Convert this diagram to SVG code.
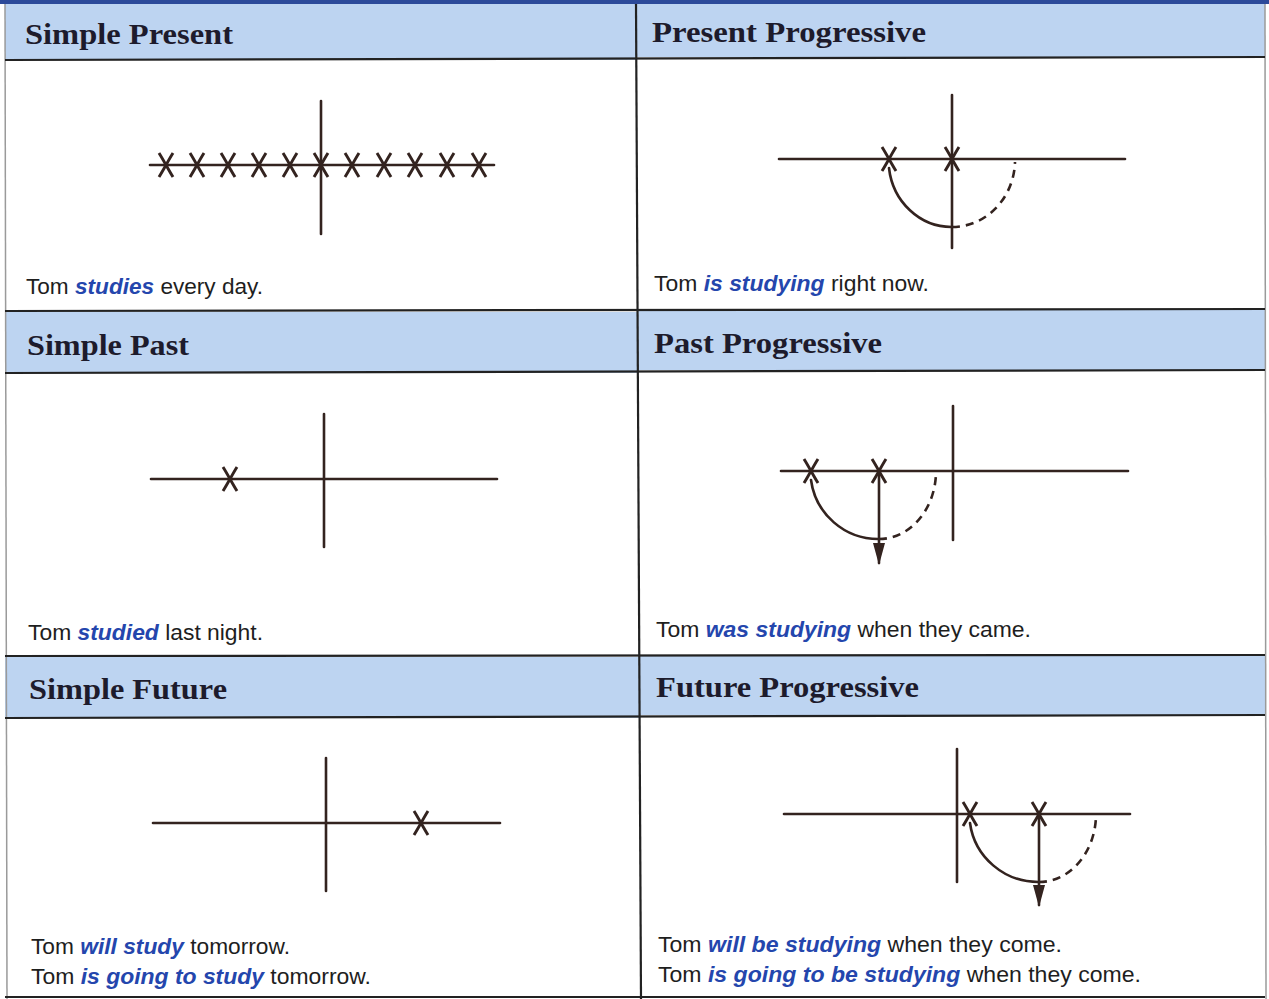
<svg xmlns="http://www.w3.org/2000/svg" width="1269" height="999" viewBox="0 0 1269 999">
<style>
.hbg{fill:#bdd4f1}
.grid{stroke:#222;stroke-width:2.2;fill:none}
.edge{stroke:#9a9a9a;stroke-width:1.5;fill:none}
.ttl{font-family:"Liberation Serif",serif;font-weight:bold;font-size:30px;fill:#1d1b2c}
.body{font-family:"Liberation Sans",Arial,sans-serif;font-size:22px;fill:#1e1e1e}
.verb{fill:#2446ad;font-weight:bold;font-style:italic}
.tl{stroke:#33231f;stroke-width:2.6;fill:none;stroke-linecap:round}
.dash{stroke:#33231f;stroke-width:2.6;fill:none;stroke-dasharray:8 6}
</style>
<defs>
<path id="x" d="M-7,-12 C-2,-4 2,4 7,12 M7,-12 C2,-4 -2,4 -7,12" stroke="#33231f" stroke-width="2.9" fill="none"/>
<marker id="arr" markerWidth="22" markerHeight="12" refX="20" refY="6" orient="auto" markerUnits="userSpaceOnUse" viewBox="0 0 22 12">
<path d="M0,0 L22,6 L0,12 Z" fill="#33231f"/>
</marker>
</defs>
<rect width="1269" height="999" fill="#ffffff"/>
<rect x="0" y="0" width="1269" height="4" fill="#2c4a9a"/>

<g id="headers-bg">
<rect class="hbg" x="5" y="4" width="632" height="56"/>
<rect class="hbg" x="637" y="4" width="628" height="53"/>
<rect class="hbg" x="5" y="312" width="633" height="61"/>
<rect class="hbg" x="638" y="310" width="627" height="60"/>
<rect class="hbg" x="5" y="657" width="635" height="61"/>
<rect class="hbg" x="639" y="655" width="626" height="60"/>
</g>

<g id="grid">
<line class="edge" x1="5" y1="4" x2="7" y2="999"/>
<line class="edge" x1="1265" y1="4" x2="1266" y2="999"/>
<line class="grid" x1="636" y1="4" x2="641" y2="999"/>
<line class="grid" x1="5" y1="60" x2="1265" y2="57"/>
<line class="grid" x1="5" y1="311" x2="1265" y2="309"/>
<line class="grid" x1="5" y1="373" x2="1265" y2="370"/>
<line class="grid" x1="5" y1="656" x2="1265" y2="655"/>
<line class="grid" x1="5" y1="718" x2="1265" y2="715"/>
<line class="grid" x1="5" y1="997" x2="1265" y2="997"/>
</g>

<g id="simple-present">
<text class="ttl" x="25" y="44" textLength="208" lengthAdjust="spacingAndGlyphs">Simple Present</text>
<line class="tl" x1="150" y1="165" x2="494" y2="165"/>
<line class="tl" x1="321" y1="101" x2="321" y2="234"/>
<use href="#x" x="166" y="165"/><use href="#x" x="197" y="165"/><use href="#x" x="228" y="165"/>
<use href="#x" x="259" y="165"/><use href="#x" x="290" y="165"/><use href="#x" x="321" y="165"/>
<use href="#x" x="352" y="165"/><use href="#x" x="384" y="165"/><use href="#x" x="415" y="165"/>
<use href="#x" x="447" y="165"/><use href="#x" x="479" y="165"/>
<text class="body" x="26" y="294" textLength="237" lengthAdjust="spacingAndGlyphs">Tom <tspan class="verb">studies</tspan> every day.</text>
</g>

<g id="present-progressive">
<text class="ttl" x="652" y="42" textLength="274" lengthAdjust="spacingAndGlyphs">Present Progressive</text>
<line class="tl" x1="779" y1="159" x2="1125" y2="159"/>
<line class="tl" x1="952" y1="95" x2="952" y2="248"/>
<use href="#x" x="889" y="159"/><use href="#x" x="952" y="159"/>
<path class="tl" d="M889,168 A63,67 0 0 0 952,227"/>
<path class="dash" d="M952,227 A63,67 0 0 0 1015,162"/>
<text class="body" x="654" y="291" textLength="275" lengthAdjust="spacingAndGlyphs">Tom <tspan class="verb">is studying</tspan> right now.</text>
</g>

<g id="simple-past">
<text class="ttl" x="27" y="355" textLength="162" lengthAdjust="spacingAndGlyphs">Simple Past</text>
<line class="tl" x1="151" y1="479" x2="497" y2="479"/>
<line class="tl" x1="324" y1="414" x2="324" y2="547"/>
<use href="#x" x="230" y="479"/>
<text class="body" x="28" y="640" textLength="235" lengthAdjust="spacingAndGlyphs">Tom <tspan class="verb">studied</tspan> last night.</text>
</g>

<g id="past-progressive">
<text class="ttl" x="654" y="353" textLength="228" lengthAdjust="spacingAndGlyphs">Past Progressive</text>
<line class="tl" x1="781" y1="471" x2="1128" y2="471"/>
<line class="tl" x1="953" y1="406" x2="953" y2="540"/>
<use href="#x" x="811" y="471"/><use href="#x" x="879" y="471"/>
<path class="tl" d="M811,480 A68,68 0 0 0 879,539"/>
<path class="dash" d="M879,539 A57,68 0 0 0 936,473"/>
<line class="tl" x1="879" y1="471" x2="879" y2="563" marker-end="url(#arr)"/>
<text class="body" x="656" y="637" textLength="375" lengthAdjust="spacingAndGlyphs">Tom <tspan class="verb">was studying</tspan> when they came.</text>
</g>

<g id="simple-future">
<text class="ttl" x="29" y="699" textLength="198" lengthAdjust="spacingAndGlyphs">Simple Future</text>
<line class="tl" x1="153" y1="823" x2="500" y2="823"/>
<line class="tl" x1="326" y1="758" x2="326" y2="891"/>
<use href="#x" x="421" y="823"/>
<text class="body" x="31" y="954" textLength="259" lengthAdjust="spacingAndGlyphs">Tom <tspan class="verb">will study</tspan> tomorrow.</text>
<text class="body" x="31" y="984" textLength="340" lengthAdjust="spacingAndGlyphs">Tom <tspan class="verb">is going to study</tspan> tomorrow.</text>
</g>

<g id="future-progressive">
<text class="ttl" x="656" y="697" textLength="263" lengthAdjust="spacingAndGlyphs">Future Progressive</text>
<line class="tl" x1="784" y1="814" x2="1130" y2="814"/>
<line class="tl" x1="957" y1="749" x2="957" y2="882"/>
<use href="#x" x="970" y="814"/><use href="#x" x="1039" y="814"/>
<path class="tl" d="M970,823 A69,68 0 0 0 1039,882"/>
<path class="dash" d="M1039,882 A57,68 0 0 0 1096,816"/>
<line class="tl" x1="1039" y1="814" x2="1039" y2="905" marker-end="url(#arr)"/>
<text class="body" x="658" y="952" textLength="404" lengthAdjust="spacingAndGlyphs">Tom <tspan class="verb">will be studying</tspan> when they come.</text>
<text class="body" x="658" y="982" textLength="483" lengthAdjust="spacingAndGlyphs">Tom <tspan class="verb">is going to be studying</tspan> when they come.</text>
</g>
</svg>
